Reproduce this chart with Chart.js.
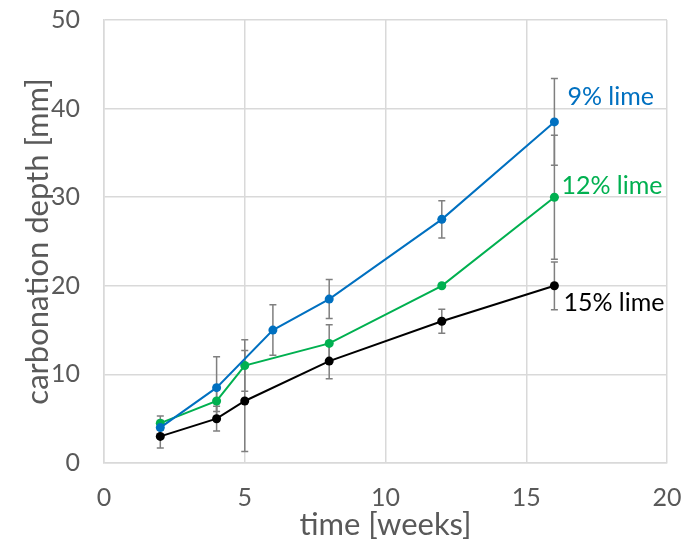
<!DOCTYPE html>
<html>
<head>
<meta charset="utf-8">
<script src="https://cdn.jsdelivr.net/npm/chart.js@4"></script>
<style>
  html, body { margin: 0; padding: 0; background: #fff; }
  #wrap { width: 690px; height: 540px; }
</style>
</head>
<body>
<div id="wrap"><canvas id="myChart" width="690" height="540"></canvas></div>
<script>
// weeks and carbonation depth [mm]
const weeks9 = [2, 4, 6, 8, 12, 16];
const depth9 = [4, 8.5, 15, 18.5, 27.5, 38.5];
const err9 = [0.8, 3.5, 2.85, 2.2, 2.1, 4.9];

const weeks12 = [2, 4, 5, 8, 12, 16];
const depth12 = [4.5, 7, 11, 13.5, 20, 30];
const err12 = [0.8, 1.2, 2.9, 2.1, 0, 7];

const weeks15 = [2, 4, 5, 8, 12, 16];
const depth15 = [3, 5, 7, 11.5, 16, 20];
const err15 = [1.3, 1.4, 5.7, 2, 1.35, 2.7];

const seriesNames = ['9% lime', '12% lime', '15% lime'];
const xTicks = [0, 5, 10, 15, 20];
const yTicks = [0, 10, 20, 30, 40, 50];

const FONT = "Lato, 'Open Sans', sans-serif";

function pts(xs, ys) {
  return xs.map((x, i) => ({ x: x, y: ys[i] }));
}

const dataX = {
  datasets: [
    { label: seriesNames[0], data: pts(weeks9, depth9), errors: err9, borderColor: '#0070C0', backgroundColor: '#0070C0', labelDx: 13, labelDy: -25 },
    { label: seriesNames[1], data: pts(weeks12, depth12), errors: err12, borderColor: '#00B050', backgroundColor: '#00B050', labelDx: 7, labelDy: -11 },
    { label: seriesNames[2], data: pts(weeks15, depth15), errors: err15, borderColor: '#000000', backgroundColor: '#000000', labelDx: 9, labelDy: 17 }
  ].map(d => Object.assign(d, {
    borderWidth: 2,
    pointRadius: 4.5,
    pointHoverRadius: 4.5,
    pointBorderWidth: 0,
    tension: 0,
    fill: false
  }))
};

// error bars drawn before the lines, then series labels after
const errorBars = {
  id: 'errorBars',
  beforeDatasetsDraw(chart) {
    const ctx = chart.ctx, xs = chart.scales.x, ys = chart.scales.y;
    ctx.save();
    ctx.strokeStyle = '#7f7f7f';
    ctx.lineWidth = 1.5;
    chart.data.datasets.forEach(ds => {
      ds.data.forEach((p, i) => {
        const e = ds.errors[i];
        if (!e) return;
        const px = xs.getPixelForValue(p.x);
        const top = ys.getPixelForValue(p.y + e);
        const bot = ys.getPixelForValue(p.y - e);
        ctx.beginPath();
        ctx.moveTo(px, top); ctx.lineTo(px, bot);
        ctx.moveTo(px - 3.5, top); ctx.lineTo(px + 3.5, top);
        ctx.moveTo(px - 3.5, bot); ctx.lineTo(px + 3.5, bot);
        ctx.stroke();
      });
    });
    ctx.restore();
  },
  afterDatasetsDraw(chart) {
    const ctx = chart.ctx, xs = chart.scales.x, ys = chart.scales.y;
    ctx.save();
    ctx.font = '25px ' + FONT;
    ctx.textBaseline = 'middle';
    chart.data.datasets.forEach(ds => {
      const last = ds.data[ds.data.length - 1];
      ctx.fillStyle = ds.borderColor;
      ctx.fillText(ds.label, xs.getPixelForValue(last.x) + ds.labelDx, ys.getPixelForValue(last.y) + ds.labelDy);
    });
    ctx.restore();
  }
};

function noPad(axis) {
  axis.paddingTop = 0; axis.paddingBottom = 0;
  axis.paddingLeft = 0; axis.paddingRight = 0;
}

const config = {
  type: 'line',
  data: dataX,
  plugins: [errorBars],
  options: {
    responsive: false,
    animation: false,
    layout: { padding: { top: 20, right: 23, left: 0, bottom: 0 } },
    plugins: { legend: { display: false }, tooltip: { enabled: false } },
    scales: {
      x: {
        type: 'linear',
        min: 0, max: 20,
        afterBuildTicks: axis => { axis.ticks = xTicks.map(v => ({ value: v })); },
        afterFit: axis => { axis.height = 77; noPad(axis); },
        grid: { color: '#d9d9d9', lineWidth: 1.5, drawTicks: false },
        border: { color: '#d9d9d9', width: 1.5 },
        ticks: { color: '#595959', font: { family: FONT, size: 25 }, padding: 20, maxRotation: 0 },
        title: { display: true, text: 'time [weeks]', color: '#595959', font: { family: FONT, size: 31 }, padding: { top: 0, bottom: -4 } }
      },
      y: {
        min: 0, max: 50,
        afterBuildTicks: axis => { axis.ticks = yTicks.map(v => ({ value: v })); },
        afterFit: axis => { axis.width = 104; noPad(axis); },
        grid: { color: '#d9d9d9', lineWidth: 1.5, drawTicks: false },
        border: { color: '#d9d9d9', width: 1.5 },
        ticks: { color: '#595959', font: { family: FONT, size: 25 }, padding: 24 },
        title: { display: true, text: 'carbonation depth [mm]', color: '#595959', font: { family: FONT, size: 31 }, padding: { top: 19, bottom: 0 } }
      }
    }
  }
};

const myChart = new Chart(document.getElementById('myChart'), config);
</script>
</body>
</html>
